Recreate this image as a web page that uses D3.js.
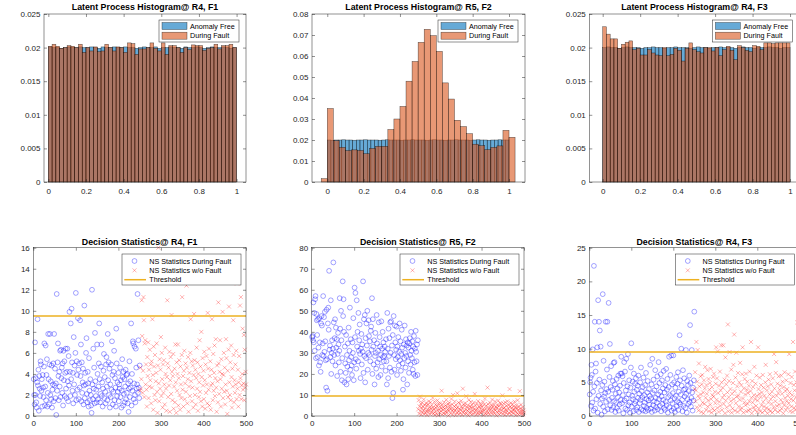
<!DOCTYPE html>
<html>
<head>
<meta charset="utf-8">
<script src="https://cdn.jsdelivr.net/npm/d3@7"></script>
<style>
body { margin: 0; background: #fff; }
</style>
</head>
<body>
<svg id="fig" width="796" height="435"></svg>
<script>
// ---- histogram data (probability per bin) ----
var freeStart = 0, freeWidth = 0.02;          // anomaly free bins, all panels
var faultStartF1 = -0.02, faultWidthF1 = 0.02;
var faultStartF2 = -1 / 30, faultWidthF2 = 1 / 30;
var faultStartF3 = -0.02, faultWidthF3 = 0.02;

var freeF1 = [0.0201,0.0200,0.0200,0.0199,0.0200,0.0201,0.0200,0.0200,0.0201,0.0200,
              0.0200,0.0201,0.0200,0.0199,0.0201,0.0200,0.0200,0.0201,0.0200,0.0200,
              0.0201,0.0200,0.0200,0.0199,0.0200,0.0201,0.0200,0.0200,0.0201,0.0199,
              0.0200,0.0200,0.0201,0.0200,0.0200,0.0199,0.0201,0.0200,0.0200,0.0201,
              0.0200,0.0199,0.0200,0.0201,0.0200,0.0200,0.0201,0.0200,0.0199,0.0200];
var faultF1 = [0,
               0.0202,0.0205,0.0202,0.0199,0.0200,0.0203,0.0202,0.0200,0.0205,0.0193,
               0.0200,0.0195,0.0201,0.0194,0.0195,0.0205,0.0200,0.0195,0.0201,0.0200,
               0.0193,0.0207,0.0206,0.0190,0.0198,0.0198,0.0200,0.0207,0.0199,0.0195,
               0.0207,0.0190,0.0203,0.0203,0.0200,0.0193,0.0200,0.0197,0.0204,0.0203,
               0.0203,0.0196,0.0199,0.0200,0.0205,0.0198,0.0203,0.0203,0.0205,0.0200];

var freeF2 = [0.0200,0.0199,0.0200,0.0200,0.0201,0.0200,0.0200,0.0199,0.0200,0.0200,
              0.0201,0.0200,0.0200,0.0200,0.0199,0.0200,0.0201,0.0200,0.0200,0.0200,
              0.0199,0.0200,0.0200,0.0201,0.0200,0.0200,0.0200,0.0199,0.0200,0.0201,
              0.0200,0.0200,0.0199,0.0200,0.0200,0.0201,0.0200,0.0200,0.0200,0.0199,
              0.0200,0.0201,0.0200,0.0200,0.0199,0.0200,0.0200,0.0201,0.0200,0.0200];
var faultF2 = [0.0016,0.0350,0.0197,0.0165,0.0150,0.0153,0.0150,0.0135,0.0160,0.0170,
               0.0170,0.0250,0.0300,0.0360,0.0480,0.0574,0.0665,0.0727,0.0697,0.0622,
               0.0472,0.0395,0.0294,0.0264,0.0230,0.0180,0.0173,0.0154,0.0165,0.0172,
               0.0246,0.0213];

var freeF3 = [0.0200,0.0201,0.0200,0.0200,0.0199,0.0200,0.0201,0.0200,0.0200,0.0200,
              0.0199,0.0200,0.0200,0.0201,0.0200,0.0200,0.0199,0.0200,0.0200,0.0201,
              0.0200,0.0200,0.0200,0.0199,0.0200,0.0201,0.0200,0.0200,0.0199,0.0200,
              0.0200,0.0201,0.0200,0.0200,0.0200,0.0199,0.0200,0.0201,0.0200,0.0200,
              0.0199,0.0200,0.0200,0.0200,0.0201,0.0200,0.0200,0.0199,0.0200,0.0200];
var faultF3 = [0,
               0.0231,0.0220,0.0213,0.0213,0.0199,0.0205,0.0208,0.0210,0.0197,0.0199,
               0.0189,0.0189,0.0197,0.0192,0.0189,0.0188,0.0200,0.0188,0.0190,0.0199,
               0.0196,0.0180,0.0199,0.0207,0.0197,0.0194,0.0192,0.0200,0.0200,0.0195,
               0.0200,0.0188,0.0197,0.0202,0.0196,0.0182,0.0203,0.0200,0.0196,0.0194,
               0.0203,0.0202,0.0197,0.0207,0.0207,0.0206,0.0207,0.0207,0.0207,0.0207];

// ---- decision statistics: samples 1..250 during fault, 251..500 w/o fault ----
var threshold = 9.5;

var duringF1 = [3.5,2.0,1.1,7.0,2.0,3.6,1.3,0.8,3.2,9.2,2.9,4.4,0.5,3.8,2.6,1.9,5.2,4.9,2.4,3.5,0.9,3.9,2.7,1.8,4.7,
  6.9,1.0,2.8,6.7,1.5,3.9,5.4,0.9,2.2,7.8,3.5,1.1,4.9,7.8,2.0,3.3,1.6,4.8,0.8,2.5,3.0,5.0,1.4,7.8,2.9,
  4.5,1.7,3.1,0.1,11.6,2.4,5.1,6.9,3.8,1.5,4.2,2.8,6.2,1.8,6.3,3.6,4.6,2.2,5.0,1.0,6.2,3.4,5.2,1.9,4.1,
  6.4,2.6,1.7,4.2,6.4,3.3,1.4,5.7,2.9,9.9,4.2,1.9,8.8,3.5,10.2,5.1,2.4,4.1,1.2,7.5,3.0,4.8,2.0,6.0,11.7,
  1.5,5.2,3.9,2.5,9.3,4.4,1.6,5.0,2.7,9.1,3.8,6.8,1.4,5.1,2.2,3.2,4.5,1.1,2.9,10.5,1.7,4.1,3.0,6.0,7.4,
  2.1,1.3,4.2,3.1,0.9,5.5,2.4,1.5,3.5,2.0,1.0,0.3,12.0,3.0,1.6,6.4,2.6,4.6,1.2,7.9,3.3,1.9,2.5,1.3,6.8,
  4.0,1.6,2.8,5.0,8.8,3.5,1.3,2.1,4.7,6.8,1.9,3.2,0.9,2.6,4.3,5.9,1.7,3.7,2.3,1.2,4.9,5.6,2.8,1.5,7.8,
  3.4,5.1,2.0,4.5,0.8,3.0,1.8,4.9,2.5,7.1,3.9,1.1,2.3,4.2,6.2,1.5,3.6,2.7,0.9,8.3,5.0,1.9,3.2,2.3,4.1,
  1.4,3.0,2.6,4.6,1.8,3.4,0.8,2.4,5.4,3.7,1.0,4.2,2.1,3.5,1.3,2.8,4.4,1.6,3.9,2.2,4.0,1.2,3.1,0.4,2.6,
  5.2,1.8,3.3,2.7,8.8,1.0,4.0,2.4,7.1,6.9,1.6,3.1,6.6,2.0,1.3,6.4,4.6,2.6,3.0,11.6,2.2,7.2,2.7,1.7,4.8];
var withoutF1 = [2.4,4.6,2.6,3.5,11.0,7.6,2.2,4.3,11.3,9.1,1.8,6.9,7.2,3.0,4.9,2.5,0.9,5.6,3.8,7.0,1.7,4.4,2.8,6.3,3.4,
  4.9,1.2,5.2,2.7,9.2,3.9,0.6,6.6,4.7,2.0,5.8,1.5,3.3,4.1,6.9,2.3,0.3,4.8,16.0,3.1,1.4,5.4,2.6,4.4,7.5,
  1.9,6.0,3.5,0.8,4.9,2.2,5.3,3.0,1.1,6.5,4.0,2.6,0.5,3.7,11.0,5.0,1.8,4.6,2.9,6.1,0.4,3.4,5.6,2.1,9.6,
  4.2,1.5,3.8,5.9,0.7,2.8,4.5,1.3,6.8,3.2,0.3,5.1,2.4,4.0,6.8,1.0,3.6,5.3,2.0,0.6,4.7,3.0,1.7,5.8,11.3,
  2.5,3.8,0.9,4.3,6.2,1.6,3.1,5.0,2.3,12.4,4.6,1.2,3.5,5.6,0.4,2.8,4.1,1.9,6.0,9.2,3.3,5.2,1.4,2.7,4.8,
  0.8,3.9,9.7,5.3,2.0,4.4,1.1,3.6,6.5,2.6,5.1,0.5,4.0,1.8,3.2,7.2,2.3,4.7,1.4,8.0,3.7,0.9,5.5,2.9,4.3,
  1.6,6.1,3.4,0.7,4.9,2.2,5.7,3.0,1.2,9.8,4.5,2.5,6.4,1.0,3.8,5.2,0.6,2.9,4.4,9.2,3.1,1.5,5.9,2.4,4.1,
  6.7,1.9,3.6,7.3,2.7,0.4,4.8,3.3,1.3,10.8,5.0,2.1,4.2,7.2,3.5,0.9,5.4,2.6,4.0,9.9,1.7,3.9,6.0,2.3,4.6,
  1.1,3.0,7.3,5.5,2.4,0.2,4.3,1.8,6.3,10.4,3.2,2.0,5.1,1.5,6.7,3.7,0.8,4.5,2.8,9.1,5.8,1.3,3.4,2.2,4.9,
  3.0,6.2,1.6,12.6,2.6,4.4,0.9,3.2,5.7,2.0,10.5,3.6,11.3,1.6,2.9,4.0,8.3,2.5,3.1,7.7,1.5,6.3,2.7,4.2,3.0];

var duringF2 = [37.5,38.0,36.0,54.0,35.0,49.0,31.0,55.5,57.0,27.5,48.5,45.5,38.5,28.0,46.0,32.5,24.0,46.5,35.0,25.5,21.0,44.0,47.5,43.0,29.0,
  34.5,57.0,28.5,47.0,30.5,49.5,35.5,26.5,13.5,50.5,27.0,12.0,44.0,51.5,41.0,69.0,31.5,33.5,28.0,55.0,20.0,30.0,36.0,26.0,32.0,
  73.0,44.5,29.0,37.0,46.0,24.0,42.0,32.5,36.5,19.0,29.5,39.5,34.0,25.5,31.0,56.0,41.5,21.0,50.0,36.0,17.0,27.5,64.0,47.5,55.5,
  40.0,16.0,33.0,25.0,20.5,38.5,15.0,29.0,23.5,34.5,17.5,42.0,26.5,31.0,51.5,22.0,36.5,28.0,24.0,19.5,35.0,30.0,46.5,17.0,25.5,
  61.0,37.5,58.5,27.0,22.5,55.0,33.0,40.0,26.0,49.0,31.0,36.0,43.5,29.5,18.0,32.0,39.0,24.5,34.0,30.5,64.0,20.5,46.0,28.5,48.0,
  16.0,37.0,27.5,44.0,33.5,50.0,22.0,30.0,45.5,38.0,29.0,35.5,26.0,40.5,42.5,31.5,56.0,20.0,46.0,33.0,24.5,36.0,15.0,28.5,39.5,
  30.0,22.5,48.0,34.5,25.5,31.0,18.5,44.5,27.0,37.5,33.0,19.5,29.0,45.0,23.5,32.0,40.0,28.0,35.0,26.0,28.5,33.0,30.5,21.5,36.5,
  26.0,15.0,49.0,32.0,18.0,41.5,28.5,37.0,23.0,44.5,30.0,45.0,21.0,33.5,8.5,38.5,11.0,47.5,29.0,22.0,43.0,35.0,27.0,31.5,42.5,
  19.5,33.0,28.0,37.5,24.0,30.5,44.0,26.5,35.5,21.5,29.5,41.0,32.5,25.0,12.5,17.5,34.0,27.5,43.0,30.0,23.0,36.5,28.5,33.5,15.0,
  35.0,26.0,32.5,20.5,34.5,37.0,29.0,24.5,40.0,31.0,27.5,35.5,22.0,33.0,20.0,38.0,25.5,32.0,19.0,40.5,30.5,26.0,34.0,19.5,36.0];
var withoutF2 = [3.2,7.5,1.1,4.6,9.2,2.4,5.8,0.6,3.9,6.3,1.8,4.4,2.7,7.9,0.9,5.2,3.5,1.4,6.1,2.2,4.8,0.4,3.0,5.6,1.9,
  7.0,2.9,4.2,0.8,6.5,3.6,1.5,5.1,2.5,8.6,4.0,1.2,3.3,6.8,0.5,2.1,5.4,3.8,1.0,4.7,7.4,2.6,0.3,5.9,3.1,
  1.6,4.5,6.0,2.3,3.7,12.0,0.7,5.3,2.8,4.1,1.3,6.6,3.4,0.9,5.0,2.0,7.7,4.3,1.7,3.0,5.7,0.2,2.6,6.2,3.9,
  4.9,1.1,3.5,8.1,2.4,5.5,0.6,10.0,3.2,1.9,4.6,6.9,2.7,0.4,5.2,3.6,1.4,10.8,4.0,2.1,6.4,0.8,3.3,5.8,1.6,
  2.9,7.2,4.4,0.5,3.7,13.0,1.8,5.6,2.3,4.8,0.9,6.1,3.0,9.4,1.2,4.2,2.6,5.0,0.3,7.6,3.4,1.5,4.7,2.0,6.7,
  3.8,0.7,5.3,2.5,4.1,1.0,6.4,3.1,10.5,1.7,4.9,2.8,0.5,5.9,3.5,1.3,7.1,2.2,4.5,0.8,3.9,6.0,1.6,5.1,2.4,
  4.3,1.9,3.0,6.6,0.4,5.4,2.7,8.3,1.1,3.6,4.8,0.9,2.3,13.5,5.7,1.5,3.2,4.0,0.6,6.3,2.9,1.8,5.0,3.7,7.8,
  0.9,4.6,2.1,5.5,3.3,1.2,6.9,2.6,4.2,0.3,3.8,5.2,1.6,7.3,2.4,4.7,0.7,3.1,6.1,1.4,5.8,2.8,4.4,9.8,1.0,
  3.5,5.9,2.0,4.1,0.5,6.5,3.0,1.7,4.9,2.5,7.0,0.8,3.6,5.3,1.3,12.8,4.3,2.2,6.2,0.6,3.9,1.9,5.6,2.7,4.5,
  1.1,3.2,6.8,2.3,4.0,0.4,5.1,1.5,3.7,7.5,2.9,0.7,4.6,1.8,11.8,3.4,0.9,5.4,2.1,3.0,1.2,4.2,0.5,2.6,1.6];

var duringF3 = [3.2,5.0,5.7,1.5,7.6,6.1,2.0,9.9,3.6,0.8,22.3,4.4,14.0,1.1,6.6,7.8,2.5,4.9,10.2,0.5,17.2,3.0,14.0,5.4,12.7,
  1.8,10.3,3.8,0.2,2.6,4.6,18.1,1.4,8.2,2.9,5.1,0.7,3.4,14.0,2.1,4.0,6.9,14.0,1.0,3.6,16.8,2.4,5.8,10.7,1.6,
  4.3,7.4,0.9,2.7,3.9,5.2,1.3,7.9,2.2,8.0,4.7,0.6,3.3,2.0,5.5,1.2,4.1,2.8,6.0,0.8,3.5,1.7,4.5,6.3,2.4,
  8.8,6.3,1.9,5.9,3.1,0.4,4.9,8.0,2.3,6.6,1.1,3.8,8.5,2.6,0.9,4.4,9.2,1.6,3.2,5.3,2.0,0.5,4.2,7.2,10.8,
  1.4,3.0,5.1,2.5,0.7,6.3,3.6,1.8,4.8,2.2,5.6,0.9,3.9,1.3,4.5,2.7,6.0,0.6,3.3,1.9,5.0,2.4,7.2,1.0,3.7,
  2.8,4.3,0.8,5.7,1.5,3.1,2.0,4.6,0.7,6.4,2.5,1.2,3.5,5.2,0.9,2.3,4.0,1.7,3.0,7.6,1.1,2.6,4.7,0.6,8.5,
  3.4,1.6,5.4,2.2,3.8,0.8,6.8,2.7,1.3,4.4,2.0,5.9,1.0,3.2,8.0,2.5,4.9,1.5,3.6,6.2,0.7,2.9,5.3,1.8,4.1,
  2.4,6.7,1.2,3.5,0.9,4.6,2.1,7.0,1.6,3.9,5.5,0.5,2.8,4.3,8.8,1.3,3.1,6.1,2.3,9.0,0.8,4.7,1.9,3.4,9.0,
  1.1,5.0,2.6,0.6,4.2,3.0,5.8,1.4,2.2,4.8,6.5,0.9,3.6,2.0,12.0,5.3,1.7,3.2,10.0,4.5,2.4,0.7,6.8,1.5,3.9,
  5.6,2.9,4.0,1.2,9.8,3.3,0.5,5.2,2.5,4.6,1.8,3.7,6.0,2.1,13.5,4.9,1.4,2.7,9.8,3.5,0.8,4.2,2.3,5.3,15.5];
var withoutF3 = [4.0,6.5,2.2,3.8,11.0,1.3,5.1,9.8,3.0,0.8,7.8,4.4,2.6,1.5,5.9,3.2,0.6,4.7,6.1,2.0,3.5,0.4,5.3,1.8,4.1,
  7.3,2.7,0.9,4.6,3.3,6.8,1.4,2.3,5.5,0.7,3.9,4.9,1.7,7.0,2.5,0.5,4.3,3.1,1.1,5.8,2.9,6.3,0.8,3.6,1.9,
  4.8,10.2,2.4,5.6,1.2,9.6,3.4,0.6,4.5,2.1,6.6,1.5,3.8,10.5,5.0,0.9,2.7,4.2,10.5,1.8,3.1,5.4,0.4,8.7,2.3,
  4.7,1.3,6.0,3.5,13.6,0.7,2.8,5.2,9.5,1.6,4.0,2.2,6.9,0.5,3.3,1.1,4.9,7.6,2.5,12.1,3.7,0.8,5.7,1.9,9.4,
  2.9,4.4,0.6,6.4,3.0,1.4,5.0,2.4,7.9,0.9,3.6,4.6,1.2,6.2,10.2,2.6,0.5,4.1,2.0,5.5,3.2,1.6,6.3,0.7,3.9,
  5.1,1.8,3.4,0.8,4.5,2.2,6.6,1.0,3.7,11.0,2.7,0.4,5.2,2.0,4.3,1.3,3.1,7.3,0.9,2.5,4.8,1.5,6.0,3.0,0.6,
  2.3,10.2,4.0,1.1,3.3,5.7,0.7,2.8,4.6,1.6,3.5,0.5,6.1,2.1,4.2,1.4,3.0,0.8,5.0,7.6,2.6,1.2,3.8,0.4,4.4,
  2.0,5.4,1.0,3.2,6.2,0.7,2.5,4.7,1.8,3.6,0.5,5.6,2.9,1.3,9.2,4.1,0.9,2.2,6.4,8.0,3.0,1.5,4.8,0.6,3.4,
  5.9,1.7,3.9,0.8,4.5,2.4,6.0,1.1,3.3,5.1,2.0,0.4,4.3,1.6,6.5,2.7,3.7,0.9,5.3,2.2,4.0,1.3,3.0,6.2,1.9,
  9.2,3.5,0.7,4.9,2.5,1.4,5.8,3.1,0.6,11.0,2.3,4.6,1.2,3.8,6.6,0.9,2.8,5.0,1.7,13.9,3.4,0.5,4.3,6.3,2.1];

// ---- axis ticks ----
var histXTicks = [0, 0.2, 0.4, 0.6, 0.8, 1];
var histYTicksA = [0, 0.005, 0.01, 0.015, 0.02, 0.025];
var histYTicksB = [0, 0.01, 0.02, 0.03, 0.04, 0.05, 0.06, 0.07, 0.08];
var statXTicks = [0, 100, 200, 300, 400, 500];
var statYTicksF1 = [0, 2, 4, 6, 8, 10, 12, 14, 16];
var statYTicksF2 = [0, 10, 20, 30, 40, 50, 60, 70, 80];
var statYTicksF3 = [0, 5, 10, 15, 20, 25];

var FONT = '"Liberation Sans", Arial, Helvetica, sans-serif';
var AX = "#262626";
var BLUE = "#0072BD", ORANGE = "#D95319", GOLD = "#EDB120";

var svg = d3.select("#fig");
var fmtNum = function(d) { return String(+d.toFixed(4)); };

function frame(g, x, y, xt, yt, padX, padY) {
    var xr = x.range(), yr = y.range();
    function ax(a, tr) {
        g.append("g").attr("transform", tr).call(a)
            .call(function(s) { s.select(".domain").remove(); })
            .call(function(s) { s.selectAll(".tick line").attr("stroke", AX).attr("stroke-width", 0.5); })
            .call(function(s) {
                s.selectAll("text").attr("fill", AX)
                    .style("font-size", "8px").style("font-family", FONT);
            });
    }
    ax(d3.axisBottom(x).tickValues(xt).tickSize(-3).tickPadding(padX).tickFormat(fmtNum), "translate(0," + yr[0] + ")");
    ax(d3.axisTop(x).tickValues(xt).tickSize(-3).tickFormat(""), "translate(0," + yr[1] + ")");
    ax(d3.axisLeft(y).tickValues(yt).tickSize(-3).tickPadding(padY).tickFormat(fmtNum), "translate(" + xr[0] + ",0)");
    ax(d3.axisRight(y).tickValues(yt).tickSize(-3).tickFormat(""), "translate(" + xr[1] + ",0)");
    g.append("rect")
        .attr("x", xr[0]).attr("y", yr[1])
        .attr("width", xr[1] - xr[0]).attr("height", yr[0] - yr[1])
        .attr("fill", "none").attr("stroke", AX).attr("stroke-width", 0.5);
}

function title(g, x, ty, txt) {
    var xr = x.range();
    g.append("text").attr("x", (xr[0] + xr[1]) / 2).attr("y", ty)
        .attr("text-anchor", "middle").style("font-family", FONT)
        .style("font-size", "8.8px").style("font-weight", "bold").attr("fill", "#000")
        .text(txt);
}

function bars(g, x, y, vals, start, width, color) {
    g.append("g").selectAll("rect").data(vals).join("rect")
        .attr("x", function(d, i) { return x(start + i * width); })
        .attr("width", function(d, i) { return x(start + (i + 1) * width) - x(start + i * width); })
        .attr("y", function(d) { return y(d); })
        .attr("height", function(d) { return y(0) - y(d); })
        .attr("fill", color).attr("fill-opacity", 0.6)
        .attr("stroke", "#000").attr("stroke-opacity", 0.65).attr("stroke-width", 0.5);
}

function histLegend(g, x, y) {
    var w = 80, h = 22, lx = x.range()[1] - 7 - w, ly = y.range()[1] + 6;
    g.append("rect").attr("x", lx).attr("y", ly).attr("width", w).attr("height", h)
        .attr("fill", "#fff").attr("stroke", AX).attr("stroke-width", 0.5);
    [["Anomaly Free", BLUE], ["During Fault", ORANGE]].forEach(function(e, i) {
        var cy = ly + 6 + i * 9.7;
        g.append("rect").attr("x", lx + 3).attr("y", cy - 3.5).attr("width", 25).attr("height", 7)
            .attr("fill", e[1]).attr("fill-opacity", 0.6)
            .attr("stroke", "#000").attr("stroke-opacity", 0.65).attr("stroke-width", 0.5);
        g.append("text").attr("x", lx + 31).attr("y", cy + 2.6)
            .style("font-family", FONT).style("font-size", "7.2px").attr("fill", "#000").text(e[0]);
    });
}

function statLegend(g, x, y) {
    var w = 119, h = 31, lx = x.range()[1] - 5 - w, ly = y.range()[1] + 6.3;
    g.append("rect").attr("x", lx).attr("y", ly).attr("width", w).attr("height", h)
        .attr("fill", "#fff").attr("stroke", AX).attr("stroke-width", 0.5);
    var rows = ["NS Statistics During Fault", "NS Statistics w/o Fault", "Threshold"];
    rows.forEach(function(t, i) {
        var cy = ly + 7 + i * 9.35;
        if (i == 0) {
            g.append("circle").attr("cx", lx + 12.5).attr("cy", cy).attr("r", 2.4)
                .attr("fill", "none").attr("stroke", "#00f").attr("stroke-opacity", 0.6).attr("stroke-width", 0.6);
        } else if (i == 1) {
            g.append("path").attr("transform", "translate(" + (lx + 12.5) + "," + cy + ")")
                .attr("d", "M-2,-2L2,2M-2,2L2,-2")
                .attr("stroke", "#f00").attr("stroke-opacity", 0.5).attr("stroke-width", 0.6);
        } else {
            g.append("line").attr("x1", lx + 2.3).attr("x2", lx + 24).attr("y1", cy).attr("y2", cy)
                .attr("stroke", GOLD).attr("stroke-width", 1.5);
        }
        g.append("text").attr("x", lx + 27.3).attr("y", cy + 2.6)
            .style("font-family", FONT).style("font-size", "7.2px").attr("fill", "#000").text(t);
    });
}

/***** Top row: latent process histograms *****/
var hists = [
    {name: "R4, F1", free: freeF1, fault: faultF1, fs: faultStartF1, fw: faultWidthF1,
     xd: [-0.023, 1.05], xr: [44, 246], yd: [0, 0.025], yt: histYTicksA},
    {name: "R5, F2", free: freeF2, fault: faultF2, fs: faultStartF2, fw: faultWidthF2,
     xd: [-0.084, 1.088], xr: [312, 525], yd: [0, 0.08], yt: histYTicksB},
    {name: "R4, F3", free: freeF3, fault: faultF3, fs: faultStartF3, fw: faultWidthF3,
     xd: [-0.0715, 1.05], xr: [589.3, 799.4], yd: [0, 0.025], yt: histYTicksA}
];

hists.forEach(function(p) {
    var g = svg.append("g");
    var x = d3.scaleLinear().domain(p.xd).range(p.xr);
    var y = d3.scaleLinear().domain(p.yd).range([182, 14]);
    bars(g, x, y, p.free, freeStart, freeWidth, BLUE);
    bars(g, x, y, p.fault, p.fs, p.fw, ORANGE);
    frame(g, x, y, histXTicks, p.yt, 6.8, 3.5);
    histLegend(g, x, y);
    title(g, x, 10, "Latent Process Histogram@ " + p.name);
});

/***** Bottom row: decision statistics *****/
var stats = [
    {name: "R4, F1", during: duringF1, without: withoutF1, xr: [33.3, 246], yd: [0, 16], yt: statYTicksF1},
    {name: "R5, F2", during: duringF2, without: withoutF2, xr: [311.7, 524], yd: [0, 80], yt: statYTicksF2},
    {name: "R4, F3", during: duringF3, without: withoutF3, xr: [589.3, 799.3], yd: [0, 25], yt: statYTicksF3}
];

stats.forEach(function(p, k) {
    var g = svg.append("g");
    var x = d3.scaleLinear().domain([0, 500]).range(p.xr);
    var y = d3.scaleLinear().domain(p.yd).range([416, 247.7]);
    var clipId = "clip" + k;
    g.append("clipPath").attr("id", clipId).append("rect")
        .attr("x", p.xr[0] - 3).attr("y", 247.7 - 3)
        .attr("width", p.xr[1] - p.xr[0] + 6).attr("height", 416 - 247.7 + 6);
    var pts = g.append("g").attr("clip-path", "url(#" + clipId + ")");

    pts.selectAll("circle").data(p.during).join("circle")
        .attr("cx", function(d, i) { return x(i + 1); })
        .attr("cy", function(d) { return y(d); })
        .attr("r", 2.4)
        .attr("fill", "none").attr("stroke", "#00f").attr("stroke-opacity", 0.6).attr("stroke-width", 0.6);

    pts.selectAll("path.xm").data(p.without).join("path").attr("class", "xm")
        .attr("transform", function(d, i) { return "translate(" + x(i + 251) + "," + y(d) + ")"; })
        .attr("d", "M-2,-2L2,2M-2,2L2,-2")
        .attr("stroke", "#f00").attr("stroke-opacity", 0.5).attr("stroke-width", 0.6);

    g.append("line")
        .attr("x1", x(0)).attr("x2", x(500))
        .attr("y1", y(threshold)).attr("y2", y(threshold))
        .attr("stroke", GOLD).attr("stroke-width", 1.5);

    frame(g, x, y, statXTicks, p.yt, 4.5, 3.5);
    statLegend(g, x, y);
    title(g, x, 244.5, "Decision Statistics@ " + p.name);
});
</script>
</body>
</html>
